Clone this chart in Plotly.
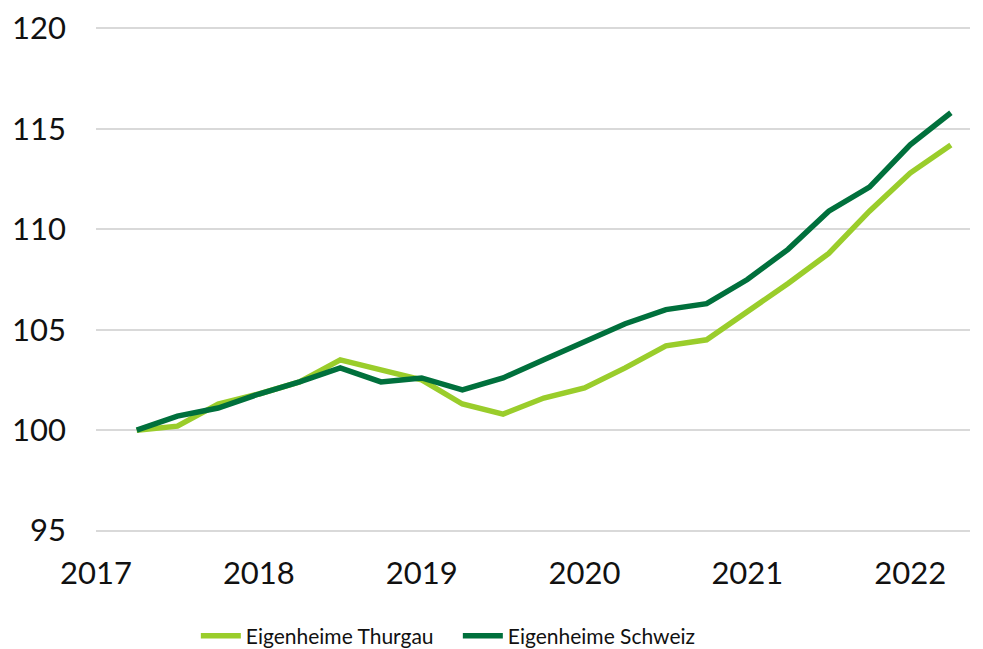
import plotly.graph_objects as go

quarters = list(range(1, 22))  # Q2 2017 .. Q2 2022 as quarter index (Q1 2017 = 0)
year_ticks = [0, 4, 8, 12, 16, 20]
year_labels = ["2017", "2018", "2019", "2020", "2021", "2022"]

thurgau = [100.0, 100.2, 101.3, 101.8, 102.4, 103.5, 103.0, 102.5, 101.3, 100.8,
           101.6, 102.1, 103.1, 104.2, 104.5, 105.9, 107.3, 108.8, 110.9, 112.8, 114.2]
schweiz = [100.0, 100.7, 101.1, 101.8, 102.4, 103.1, 102.4, 102.6, 102.0, 102.6,
           103.5, 104.4, 105.3, 106.0, 106.3, 107.5, 109.0, 110.9, 112.1, 114.2, 115.8]

fig = go.Figure()
fig.add_trace(go.Scatter(x=quarters, y=thurgau, mode="lines", name="Eigenheime Thurgau",
                         line=dict(color="#9ACD2B", width=5.5)))
fig.add_trace(go.Scatter(x=quarters, y=schweiz, mode="lines", name="Eigenheime Schweiz",
                         line=dict(color="#00703C", width=5.5)))

fig.update_layout(
    width=975, height=641,
    margin=dict(l=88, r=13, t=19, b=117, autoexpand=False),
    paper_bgcolor="white", plot_bgcolor="white",
    font=dict(family="Lato, Noto Sans, sans-serif", color="#111111", size=31),
    showlegend=True,
    legend=dict(orientation="h", x=0.414, xanchor="center", y=-0.206, yanchor="middle",
                font=dict(size=21), itemwidth=40, traceorder="normal", entrywidth=207),
    xaxis=dict(range=[0, 21.47], tickmode="array", tickvals=year_ticks, ticktext=year_labels,
               showgrid=False, zeroline=False, showline=False, ticks="",
               ticklabelstandoff=20),
    yaxis=dict(range=[94.93, 120.07], tickmode="array", tickvals=[95, 100, 105, 110, 115, 120],
               showgrid=True, gridcolor="#d9d9d9", gridwidth=1.5, zeroline=False,
               showline=False, ticks="", ticklabelstandoff=29),
)

fig.write_html("out.html")
